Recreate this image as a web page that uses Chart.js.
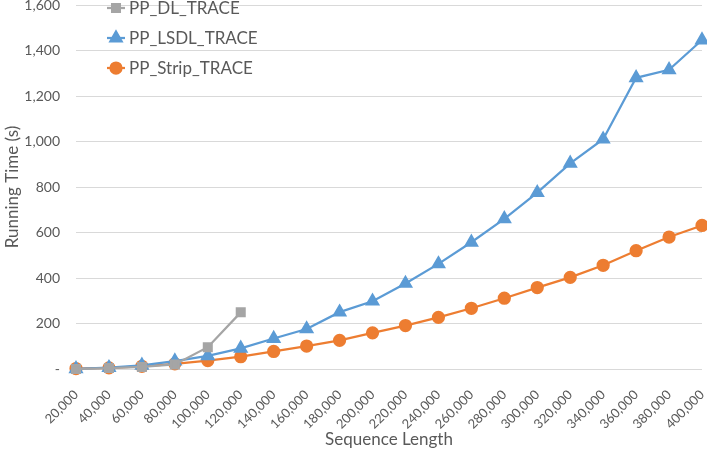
<!DOCTYPE html>
<html>
<head>
<meta charset="utf-8">
<script src="https://cdn.jsdelivr.net/npm/chart.js@4"></script>
<style>
  html, body { margin: 0; padding: 0; background: #fff; }
  #wrap { width: 707px; height: 450px; }
</style>
</head>
<body>
<div id="wrap"><canvas id="chart"></canvas></div>
<script>

const sequenceLengths = [
    "20,000","40,000","60,000","80,000","100,000","120,000","140,000","160,000","180,000","200,000",
    "220,000","240,000","260,000","280,000","300,000","320,000","340,000","360,000","380,000","400,000"
];

const dlTrace = [0, 4, 9, 20, 96, 249];

const lsdlTrace = [1, 6, 16, 35, 58, 91, 134, 176, 250, 298, 376, 462, 557, 660, 775, 904, 1010, 1280, 1315, 1446];

const stripTrace = [2, 5, 12, 23, 37, 54, 77, 101, 126, 159, 191, 227, 267, 311, 358, 403, 456, 520, 580, 631];

const yTicks = [0, 200, 400, 600, 800, 1000, 1200, 1400, 1600];

const FONT = "Lato, 'Open Sans', sans-serif";
const TEXT_GREY = "#595959";

// legend drawn inside the plot, like the spreadsheet version
const insideLegend = {

    id:"insideLegend",

    afterDraw(chart){

        const ctx = chart.ctx;
        const x0 = 107;
        const rows = [8, 38, 68];

        ctx.save();

        chart.data.datasets.forEach((ds,i)=>{

            const y = rows[i];

            ctx.strokeStyle = ds.borderColor;
            ctx.lineWidth = 2.25;
            ctx.beginPath();
            ctx.moveTo(x0, y);
            ctx.lineTo(x0 + 18, y);
            ctx.stroke();

            Chart.helpers.drawPoint(ctx, {
                pointStyle: ds.pointStyle,
                radius: ds.pointRadius,
                rotation: 0,
                borderWidth: 1
            }, x0 + 9, y);

            ctx.fillStyle = ds.borderColor;
            ctx.fill();

            ctx.fillStyle = TEXT_GREY;
            ctx.font = "17px " + FONT;
            ctx.textBaseline = "middle";
            ctx.fillText(ds.label, x0 + 22, y + 1);

        });

        ctx.restore();

    }

};

function styled(label, data, color, pointStyle, radius){

    return {
        label: label,
        data: data,
        borderColor: color,
        backgroundColor: color,
        pointBackgroundColor: color,
        pointBorderColor: color,
        pointStyle: pointStyle,
        pointRadius: radius,
        borderWidth: 2.25,
        tension: 0,
        clip: 8
    };

}

new Chart(document.getElementById("chart"), {

    type:"line",

    data:{

        labels: sequenceLengths,

        datasets:[
            styled("PP_DL_TRACE", dlTrace, "#A5A5A5", "rect", 5.5),
            styled("PP_LSDL_TRACE", lsdlTrace, "#5B9BD5", "triangle", 6.5),
            styled("PP_Strip_TRACE", stripTrace, "#ED7D31", "circle", 5.5)
        ]

    },

    options:{

        responsive:true,
        maintainAspectRatio:false,
        animation:false,

        layout:{
            autoPadding:false,
            padding:{ top:5, right:5, left:0, bottom:0 }
        },

        plugins:{
            legend:{ display:false },
            tooltip:{ enabled:false }
        },

        scales:{

            x:{
                grid:{ display:false },
                border:{ display:false },
                ticks:{
                    color: TEXT_GREY,
                    font:{ family: FONT, size: 13 },
                    minRotation:45,
                    maxRotation:45,
                    autoSkip:false,
                    padding:10
                },
                title:{
                    display:true,
                    text:"Sequence Length",
                    color: TEXT_GREY,
                    font:{ family: FONT, size: 17 },
                    padding:{ top:0, bottom:0 }
                },
                afterFit(scale){
                    scale.height = 81;
                    scale.paddingLeft = 0;
                    scale.paddingRight = 0;
                }
            },

            y:{
                min:0,
                max:1600,
                grid:{ color:"#D9D9D9", lineWidth:1, drawTicks:false },
                border:{ display:false },
                afterBuildTicks(scale){
                    scale.ticks = yTicks.map(v=>({ value:v }));
                },
                ticks:{
                    color: TEXT_GREY,
                    font:{ family: FONT, size: 14 },
                    padding:16,
                    callback:(v)=> v === 0 ? "-" : v.toLocaleString("en-US")
                },
                title:{
                    display:true,
                    text:"Running Time (s)",
                    color: TEXT_GREY,
                    font:{ family: FONT, size: 17 },
                    padding:{ top:2, bottom:0 }
                },
                afterFit(scale){
                    scale.width = 76;
                    scale.paddingTop = 0;
                    scale.paddingBottom = 0;
                }
            }

        }

    },

    plugins:[insideLegend]

});

</script>
</body>
</html>
